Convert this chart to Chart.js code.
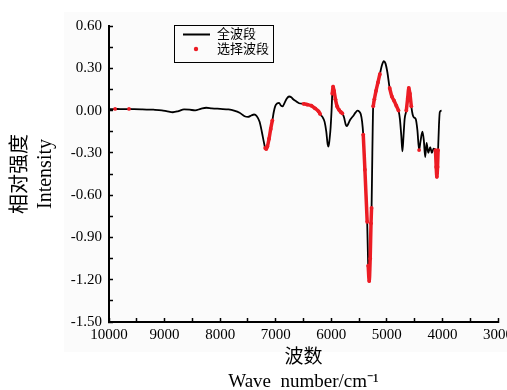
<!DOCTYPE html>
<html>
<head>
<meta charset="utf-8">
<script src="https://cdn.jsdelivr.net/npm/chart.js@4/dist/chart.umd.min.js"></script>
<style>
  html, body { margin: 0; padding: 0; background: #fff; }
  #wrap { position: relative; width: 507px; height: 390px; }
</style>
</head>
<body>
<div id="wrap"><canvas id="c-spectrum"></canvas></div>
<script>
// wave numbers (cm-1), high to low, and the full band intensity
const waveNumbers = [
  10000, 9950, 9890, 9800, 9700, 9640, 9550, 9400, 9200, 9050, 8950, 8850, 8750, 8650, 8550, 8450,
  8350, 8250, 8150, 8000, 7850, 7750, 7650, 7560, 7500, 7440, 7390, 7340, 7290, 7250, 7215, 7190,
  7170, 7150, 7120, 7090, 7060, 7035, 7010, 6975, 6940, 6905, 6875, 6840, 6800, 6760, 6720, 6685,
  6630, 6580, 6500, 6430, 6360, 6290, 6230, 6200, 6160, 6120, 6090, 6065, 6050, 6030, 6012, 5995,
  5982, 5968, 5950, 5925, 5895, 5860, 5830, 5800, 5770, 5740, 5720, 5690, 5660, 5610, 5565, 5530,
  5500, 5470, 5445, 5425, 5395, 5354, 5336, 5318, 5300, 5285, 5275, 5261, 5246, 5225, 5195, 5160,
  5125, 5090, 5055, 5025, 4990, 4950, 4910, 4870, 4830, 4790, 4765, 4740, 4720, 4700, 4680, 4650,
  4625, 4605, 4585, 4560, 4535, 4510, 4480, 4450, 4420, 4395, 4360, 4335, 4310, 4285, 4255, 4220,
  4190, 4160, 4125, 4112, 4100, 4088, 4078, 4062, 4047, 4015
];
const intensity = [
  0.010, 0.010, 0.012, 0.010, 0.010, 0.012, 0.010, 0.008, 0.006, 0.002, -0.006, -0.012, -0.004, 0.008, 0.006, 0.002,
  0.012, 0.020, 0.016, 0.012, 0.008, 0.000, -0.015, -0.040, -0.045, -0.035, -0.028, -0.040, -0.080, -0.150, -0.220, -0.265,
  -0.272, -0.255, -0.200, -0.130, -0.070, -0.010, 0.030, 0.050, 0.055, 0.035, 0.030, 0.055, 0.085, 0.100, 0.095, 0.080,
  0.065, 0.052, 0.048, 0.042, 0.035, 0.015, -0.005, -0.025, -0.045, -0.080, -0.150, -0.240, -0.255, -0.200, -0.120, 0.000,
  0.120, 0.170, 0.140, 0.080, 0.030, 0.005, -0.010, -0.020, -0.050, -0.100, -0.110, -0.090, -0.065, -0.040, -0.015, 0.000,
  -0.005, -0.025, -0.080, -0.170, -0.420, -0.790, -1.100, -1.210, -1.050, -0.800, -0.690, -0.300, 0.030, 0.080, 0.140, 0.200,
  0.260, 0.320, 0.350, 0.335, 0.270, 0.160, 0.100, 0.070, 0.035, 0.000, -0.060, -0.180, -0.290, -0.180, -0.060, 0.000,
  0.090, 0.160, 0.120, 0.030, -0.030, -0.050, -0.060, -0.140, -0.280, -0.220, -0.150, -0.210, -0.330, -0.230, -0.300, -0.260,
  -0.300, -0.270, -0.280, -0.400, -0.470, -0.400, -0.280, -0.100, -0.010, 0.000
];

// selected band intervals (start / end wave number)
const selStart = [9890, 9640, 7190, 6500, 5982, 5425, 5336, 5246, 4950, 4650, 4420, 4125];
const selEnd   = [9890, 9640, 7060, 6200, 5800, 5354, 5275, 5125, 4790, 4560, 4420, 4078];

const xTicks = [10000, 9000, 8000, 7000, 6000, 5000, 4000, 3000];
const yTicks = [0.6, 0.3, 0, -0.3, -0.6, -0.9, -1.2, -1.5];

const seriesNames = ['全波段', '选择波段'];

const SERIF = '"Liberation Serif", "Times New Roman", "Noto Sans CJK SC", serif';
const RED = '#ec1c24';

const fullData = waveNumbers.map((w, i) => ({ x: w, y: intensity[i] }));
const selData = [];
selStart.forEach((s, k) => {
  waveNumbers.forEach((w, i) => {
    if (w <= s && w >= selEnd[k]) selData.push({ x: w, y: intensity[i] });
  });
  selData.push({ x: selEnd[k] - 1, y: null });
});

// light panel behind the whole figure
const panelBg = {
  id: 'panelBg',
  beforeDraw(chart) {
    const ctx = chart.ctx;
    ctx.save();
    ctx.fillStyle = '#fbfbfb';
    ctx.fillRect(64, 12, chart.width - 64, 340);
    ctx.restore();
  }
};

// boxed legend inside the plot
const boxLegend = {
  id: 'boxLegend',
  afterDraw(chart) {
    const ctx = chart.ctx;
    ctx.save();
    ctx.strokeStyle = '#000';
    ctx.lineWidth = 1;
    ctx.strokeRect(174.5, 25.5, 99, 37);
    ctx.lineWidth = 2;
    ctx.beginPath();
    ctx.moveTo(183, 34.5);
    ctx.lineTo(210, 34.5);
    ctx.stroke();
    ctx.fillStyle = RED;
    ctx.beginPath();
    ctx.arc(196, 49, 2.2, 0, Math.PI * 2);
    ctx.fill();
    ctx.fillStyle = '#000';
    ctx.font = '13px ' + SERIF;
    ctx.textBaseline = 'middle';
    ctx.fillText(seriesNames[0], 217, 35);
    ctx.fillText(seriesNames[1], 217, 50);
    ctx.restore();
  }
};

new Chart(document.getElementById('c-spectrum'), {
  type: 'scatter',
  data: {
    datasets: [
      {
        label: seriesNames[1], data: selData, showLine: true, spanGaps: false,
        borderColor: RED, borderWidth: 3.5, backgroundColor: RED,
        pointRadius: 1.9, pointBorderWidth: 0, cubicInterpolationMode: 'monotone', order: 0
      },
      {
        label: seriesNames[0], data: fullData, showLine: true,
        borderColor: '#000', borderWidth: 1.8, pointRadius: 0,
        cubicInterpolationMode: 'monotone', order: 1
      }
    ]
  },
  options: {
    responsive: true,
    maintainAspectRatio: false,
    animation: false,
    layout: { padding: { left: 0, right: 9, top: 26, bottom: 0 } },
    plugins: { legend: { display: false }, tooltip: { enabled: false } },
    scales: {
      x: {
        type: 'linear', reverse: true, min: 3000, max: 10000,
        border: { color: '#000', width: 2 },
        grid: { drawOnChartArea: false, drawTicks: true, tickLength: -4, tickColor: '#000', tickWidth: 1.5 },
        ticks: {
          stepSize: 500, autoSkip: false, maxRotation: 0, color: '#000', padding: 8,
          font: { family: SERIF, size: 15 },
          callback: v => xTicks.includes(v) ? String(v) : ''
        },
        title: {
          display: true, text: ['波数', 'Wave  number/cm\u207B\u00B9'], color: '#000',
          font: { family: SERIF, size: 19, lineHeight: 1.25 }, padding: { top: 0, bottom: -4 }
        },
        afterFit(scale) { scale.height = 68; scale.paddingLeft = 0; scale.paddingRight = 0; }
      },
      y: {
        type: 'linear', min: -1.5, max: 0.6,
        border: { color: '#000', width: 2 },
        grid: { drawOnChartArea: false, drawTicks: true, tickLength: -4, tickColor: '#000', tickWidth: 1.5 },
        ticks: {
          stepSize: 0.15, autoSkip: false, color: '#000', padding: 11,
          font: { family: SERIF, size: 15 },
          callback: v => yTicks.some(t => Math.abs(t - v) < 1e-6) ? v.toFixed(2) : ''
        },
        title: {
          display: true, text: ['相对强度', 'Intensity'], color: '#000',
          font: { family: SERIF, size: 20, lineHeight: 1.25 }, padding: { top: 8, bottom: 0 }
        },
        afterFit(scale) { scale.width = 109; scale.paddingTop = 0; scale.paddingBottom = 0; }
      }
    }
  },
  plugins: [panelBg, boxLegend]
});
</script>
</body>
</html>
